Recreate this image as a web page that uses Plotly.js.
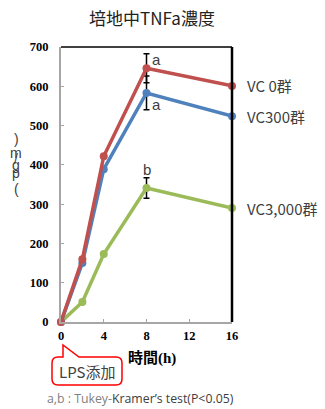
<!DOCTYPE html>
<html><head><meta charset="utf-8">
<script src="https://cdn.plot.ly/plotly-3.0.1.min.js"></script>
<style>html,body{margin:0;padding:0;background:#fff}#c{width:325px;height:409px}</style>
</head><body><div id="c"></div>
<script>
const hours = [0, 2, 4, 8, 16];
const vc0 = [0, 160, 422, 646, 601];
const vc300 = [0, 150, 389, 583, 524];
const vc3000 = [0, 51, 173, 341, 290];
const err0 = [0, 0, 0, 37, 0];
const err300 = [0, 0, 0, 43, 0];
const err3000 = [0, 0, 0, 26, 0];
const seriesNames = ['VC 0群', 'VC300群', 'VC3,000群'];
const colors = ['#C0504D', '#4F81BD', '#9BBB59'];
const xTicks = [0, 4, 8, 12, 16];
const yTicks = [0, 100, 200, 300, 400, 500, 600, 700];
const sigLetters = ['a', 'a', 'b'];

const W = 325, H = 409, L = 61, R = 232, T = 47, B = 322;
const px = (x) => (x - L) / (R - L);
const py = (y) => (B - y) / (B - T);

function trace(y, err, i) {
  return {
    x: hours, y: y, type: 'scatter', mode: 'lines+markers', name: seriesNames[i],
    line: {color: colors[i], width: 3.5}, marker: {color: colors[i], size: 8},
    error_y: {type: 'data', array: err, visible: true, color: '#000', thickness: 1.5, width: 3},
    cliponaxis: false, showlegend: false
  };
}
const data = [trace(vc3000, err3000, 2), trace(vc300, err300, 1), trace(vc0, err0, 0)];

const series = [vc0, vc300, vc3000];
const annotations = [];
series.forEach((s, i) => {
  annotations.push({x: hours[hours.length - 1], y: s[s.length - 1], xref: 'x', yref: 'y',
    text: seriesNames[i], showarrow: false, xanchor: 'left', yanchor: 'middle', xshift: 13,
    font: {family: 'Noto Sans CJK JP', size: 15, color: '#404040'}});
});
annotations.push({x: 8, y: vc0[3] + err0[3], xref: 'x', yref: 'y', text: sigLetters[0], showarrow: false,
  xanchor: 'left', yanchor: 'middle', xshift: 3, yshift: -6, font: {family: 'Liberation Sans', size: 15, color: '#404040'}});
annotations.push({x: 8, y: vc300[3] - err300[3], xref: 'x', yref: 'y', text: sigLetters[1], showarrow: false,
  xanchor: 'left', yanchor: 'middle', xshift: 3, yshift: 5, font: {family: 'Liberation Sans', size: 15, color: '#404040'}});
annotations.push({x: 8, y: vc3000[3] + err3000[3], xref: 'x', yref: 'y', text: sigLetters[2], showarrow: false,
  xanchor: 'center', yanchor: 'bottom', xshift: 0, yshift: -2, font: {family: 'Liberation Sans', size: 15, color: '#404040'}});
function paperText(text, x, y, font, xanchor) {
  annotations.push({x: px(x), y: py(y), xref: 'paper', yref: 'paper', showarrow: false,
    xanchor: xanchor || 'center', yanchor: 'middle', text: text, font: font});
}
paperText('<b>時間</b><b style="font-family:Liberation Serif">(h)</b>', 152, 356,
  {family: 'Noto Sans CJK JP', size: 15, color: '#000'});
const yChars = [[')', 139], ['m', 153], ['/', 159], ['g', 165], ['p', 173], ['(', 189]];
yChars.forEach(c => paperText(c[0], 16, c[1], {family: 'Liberation Sans', size: 14, color: '#404040'}));
paperText('LPS添加', 87, 371, {family: 'Noto Sans CJK JP', size: 15, color: '#404040'});
paperText('<span style="color:#7f7f7f">a,b : Tukey-</span>Kramer’s test(P<0.05)', 45, 398,
  {family: 'Open Sans', size: 12.3, color: '#404040'}, 'left');

const pt = (x, y) => px(x) + ',' + py(y);
const calloutPath = 'M ' + pt(58,357) + ' L ' + pt(63,357) + ' L ' + pt(63,345) + ' L ' + pt(79,357) +
  ' L ' + pt(116,357) + ' Q ' + pt(122,357) + ' ' + pt(122,363) + ' L ' + pt(122,379) +
  ' Q ' + pt(122,385) + ' ' + pt(116,385) + ' L ' + pt(58,385) + ' Q ' + pt(52,385) + ' ' + pt(52,379) +
  ' L ' + pt(52,363) + ' Q ' + pt(52,357) + ' ' + pt(58,357) + ' Z';

const shapes = [
  {type: 'line', xref: 'paper', yref: 'paper', x0: 0, x1: 1, y0: 1, y1: 1, line: {color: '#000', width: 1.5}},
  {type: 'line', xref: 'paper', yref: 'paper', x0: 1, x1: 1, y0: 0, y1: 1, line: {color: '#000', width: 2.5}},
  {type: 'path', xref: 'paper', yref: 'paper', path: calloutPath, fillcolor: '#fff', line: {color: '#FF0000', width: 1.5}}
];

const layout = {
  width: W, height: H, margin: {l: L, r: W - R, t: T, b: H - B},
  paper_bgcolor: '#fff', plot_bgcolor: '#fff', showlegend: false,
  title: {text: '培地中TNFa濃度', x: 152 / W, xanchor: 'center', y: 1 - 19 / H, yanchor: 'middle',
    font: {family: 'Noto Sans CJK JP', size: 17, color: '#222'}},
  xaxis: {range: [0, 16], tickvals: xTicks, ticktext: xTicks.map(v => '<b>' + v + '</b>'),
    showgrid: false, zeroline: false, showline: true, linecolor: '#A6A6A6', linewidth: 2,
    ticks: 'inside', ticklen: 3, tickcolor: '#A6A6A6', ticklabelstandoff: 1,
    tickfont: {family: 'Liberation Serif', size: 12.5, color: '#000'}},
  yaxis: {range: [0, 700], tickvals: yTicks, ticktext: yTicks.map(v => '<b>' + v + '</b>'),
    showgrid: false, zeroline: false, showline: true, linecolor: '#A6A6A6', linewidth: 2,
    ticks: 'inside', ticklen: 3, tickcolor: '#A6A6A6', ticklabelstandoff: 8,
    tickfont: {family: 'Liberation Serif', size: 12.5, color: '#000'}},
  annotations: annotations, shapes: shapes
};
Plotly.newPlot('c', data, layout, {displayModeBar: false, staticPlot: true});
</script></body></html>
